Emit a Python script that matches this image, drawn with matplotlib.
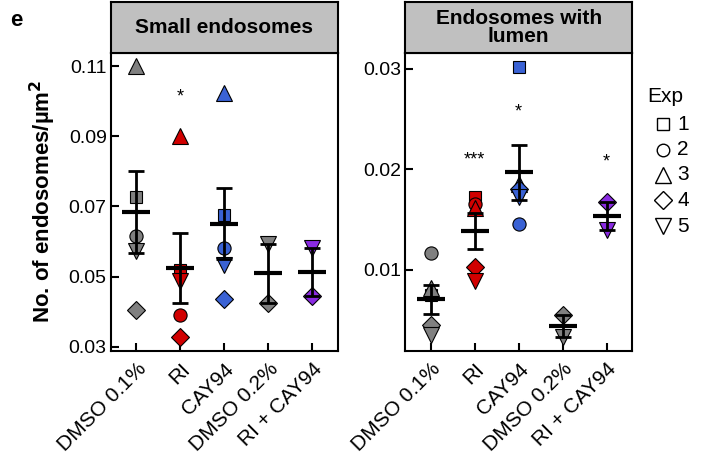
import numpy as np
import matplotlib.pyplot as plt
from matplotlib.lines import Line2D

# groups shown on both panels
groups = ["DMSO 0.1%", "RI", "CAY94", "DMSO 0.2%", "RI + CAY94"]
group_colors = ["#808080", "#d10000", "#3a62d4", "#808080", "#8a2be2"]

# experiment markers (Exp 1..5)
exp_labels = ["1", "2", "3", "4", "5"]
exp_markers = ["s", "o", "^", "D", "v"]
exp_sizes = [8.8, 9.5, 12, 9.5, 11.5]

# small endosomes, per group: values for exp 1..5 (None = missing)
small_dmso01 = [0.0727, 0.0617, 0.1100, 0.0405, 0.0574]
small_ri = [0.0519, 0.0391, 0.0900, 0.0327, 0.0486]
small_cay = [0.0676, 0.0581, 0.1024, 0.0436, 0.0533]
small_dmso02 = [None, None, None, 0.0426, 0.0593]
small_ricay = [None, None, None, 0.0445, 0.0581]
small_stars = ["", "*", "", "", ""]

# endosomes with lumen
lumen_dmso01 = [0.0075, 0.01166, 0.0082, 0.00453, 0.00353]
lumen_ri = [0.0173, 0.01657, 0.0162, 0.01027, 0.0089]
lumen_cay = [0.0302, 0.01455, 0.0185, 0.0180, 0.0173]
lumen_dmso02 = [None, None, None, 0.00552, 0.00336]
lumen_ricay = [None, None, None, 0.0168, 0.0140]
lumen_stars = ["", "***", "*", "", "*"]

small_data = [small_dmso01, small_ri, small_cay, small_dmso02, small_ricay]
lumen_data = [lumen_dmso01, lumen_ri, lumen_cay, lumen_dmso02, lumen_ricay]

plt.rcParams['font.family'] = ['Liberation Sans', 'DejaVu Sans']

fig = plt.figure(figsize=(7.02, 4.65), dpi=100)


def draw_panel(rect, data, stars, ylim, yticks, ytlabels, title, star_y):
    ax = fig.add_axes(rect)
    for i, vals in enumerate(data):
        pts = [(k, v) for k, v in enumerate(vals) if v is not None]
        arr = np.array([v for _, v in pts])
        m = arr.mean()
        sem = arr.std(ddof=1) / np.sqrt(len(arr))
        for k, v in pts:
            ax.plot(i, v, marker=exp_markers[k], ms=exp_sizes[k],
                    mfc=group_colors[i], mec="black", mew=0.8, ls="none", zorder=3)
        ax.errorbar(i, m, yerr=sem, color="black", lw=2, capsize=5.5,
                    capthick=2, zorder=4)
        ax.plot([i - 0.32, i + 0.32], [m, m], color="black", lw=3, zorder=4,
                solid_capstyle="butt")
        if stars[i]:
            ax.text(i, star_y[i], stars[i], ha="center", va="center", fontsize=13)
    ax.set_xlim(-0.58, 4.58)
    ax.set_ylim(*ylim)
    ax.set_yticks(yticks)
    ax.set_yticklabels(ytlabels, fontsize=14)
    ax.set_xticks(range(len(groups)))
    ax.set_xticklabels(groups, rotation=45, ha="right", rotation_mode="anchor",
                       fontsize=15)
    ax.tick_params(direction="in", length=6, width=1.5, pad=3)
    ax.tick_params(axis="x", pad=6)
    for s in ax.spines.values():
        s.set_linewidth(1.5)
    # grey strip on top
    strip = fig.add_axes([rect[0], rect[1] + rect[3], rect[2], 0.1097])
    strip.set_facecolor("#c0c0c0")
    strip.set_xticks([])
    strip.set_yticks([])
    for s in strip.spines.values():
        s.set_linewidth(1.5)
    strip.text(0.5, 0.5, title, ha="center", va="center", fontsize=15,
               fontweight="bold", linespacing=0.95, transform=strip.transAxes)
    return ax


ax1 = draw_panel([0.158, 0.2452, 0.323, 0.6415], small_data, small_stars,
                 (0.0288, 0.1138), [0.03, 0.05, 0.07, 0.09, 0.11],
                 ["0.03", "0.05", "0.07", "0.09", "0.11"], "Small endosomes",
                 [0, 0.1013, 0, 0, 0])
ax2 = draw_panel([0.577, 0.2452, 0.3237, 0.6415], lumen_data, lumen_stars,
                 (0.00194, 0.0316), [0.01, 0.02, 0.03],
                 ["0.01", "0.02", "0.03"], "Endosomes with\nlumen",
                 [0, 0.0209, 0.0257, 0, 0.0207])

fig.text(0.061, 0.566, "No. of endosomes/µm$^\\mathbf{2}$", rotation=90,
         ha="center", va="center", fontsize=16, fontweight="bold")
fig.text(0.014, 0.955, "e", fontsize=16, fontweight="bold", ha="left", va="center")

# legend drawn by hand so the markers sit indented under the title
W, H = 702.0, 465.0
fig.text(647 / W, 1 - 96 / H, "Exp", fontsize=15, ha="left", va="center")
for k, (lab, mk) in enumerate(zip(exp_labels, exp_markers)):
    y = 1 - (124 + 25.5 * k) / H
    fig.add_artist(Line2D([663 / W], [y], transform=fig.transFigure, marker=mk,
                          ls="none", mfc="white", mec="black", mew=1.0,
                          ms=exp_sizes[k] * 0.95))
    fig.text(677 / W, y, lab, fontsize=15, ha="left", va="center")

fig.savefig("out.png", dpi=100)
